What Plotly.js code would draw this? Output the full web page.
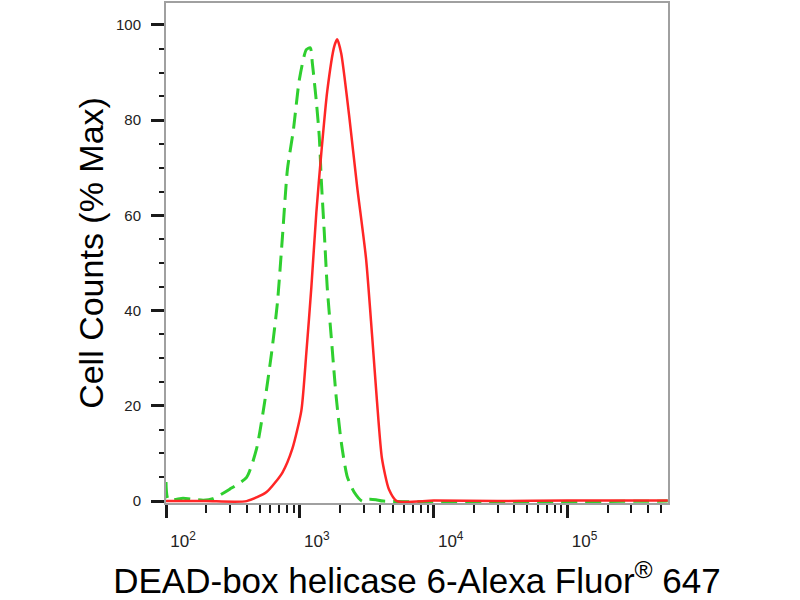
<!DOCTYPE html>
<html>
<head>
<meta charset="utf-8">
<script src="https://cdn.plot.ly/plotly-3.0.1.min.js"></script>
<style>html,body{margin:0;padding:0;background:#fff;}#chart{width:800px;height:600px;}</style>
</head>
<body>
<div id="chart"></div>
<script>
// Fluorescence intensity (x) and % of max cell counts (y)
var redX = [100, 200, 400, 564, 741, 879, 1026, 1117, 1219, 1327, 1445, 1600, 1807, 1901, 2037, 2333, 2679, 3119, 3459, 3767, 4102, 4624, 5309, 10000, 30000, 100000, 300000, 560000];
var redY = [0, 0, 0, 1.9, 6, 11, 19, 31, 45, 60.5, 73, 86, 95.5, 97, 94, 81, 66, 51, 35, 21, 9, 2.5, 0, 0.1, 0, 0.15, 0.1, 0.15];

var greenX = [100, 104, 134, 159, 190, 224, 299, 400, 475, 545, 614, 680, 741, 807, 895, 991, 1117, 1197, 1239, 1327, 1397, 1445, 1522, 1600, 1714, 1866, 2037, 2255, 2541, 2917, 3289, 3707, 4200, 560000];
var greenY = [4, 0.3, 0.6, 0.4, 0.2, 0.5, 2.5, 5, 11, 20.7, 31, 41.7, 55.5, 69.6, 78, 88.5, 94.8, 95.2, 92, 84, 76.5, 67.5, 56.4, 45, 34.6, 22, 12.4, 5.2, 1.9, 0, 0.4, 0.3, 0, 0];

var xTickVals = [100, 1000, 10000, 100000];
var xTickText = ["10<sup>2</sup>", "10<sup>3</sup>", "10<sup>4</sup>", "10<sup>5</sup>"];
var xMinorVals = [200,300,400,500,600,700,800,900,2000,3000,4000,5000,6000,7000,8000,9000,20000,30000,40000,50000,60000,70000,80000,90000,200000,300000,400000,500000];
var yTickVals = [0, 20, 40, 60, 80, 100];
var xTitle = "DEAD-box helicase 6-Alexa Fluor<sup>®</sup> 647";
var yTitle = "Cell Counts (% Max)";

var traces = [
  {x: greenX, y: greenY, type: 'scatter', mode: 'lines',
   line: {color: '#2fcf2f', width: 3, dash: '16px,8px', shape: 'spline', smoothing: 0.6}, hoverinfo: 'skip'},
  {x: redX, y: redY, type: 'scatter', mode: 'lines',
   line: {color: '#ff2626', width: 2.5, shape: 'spline', smoothing: 0.6}, hoverinfo: 'skip'}
];

var fontFam = 'Liberation Sans, Arial, Helvetica, sans-serif';
var layout = {
  width: 800, height: 600,
  margin: {l: 166, r: 132, t: 3, b: 97},
  paper_bgcolor: '#ffffff', plot_bgcolor: '#ffffff',
  showlegend: false,
  font: {family: fontFam},
  xaxis: {
    type: 'log', range: [2, 5.75],
    tickmode: 'array', tickvals: xTickVals, ticktext: xTickText,
    ticks: 'outside', ticklen: 13, tickwidth: 3, tickcolor: '#1a1a1a',
    showline: true, linecolor: '#a0a0a0', linewidth: 2, mirror: true,
    showgrid: false, zeroline: false,
    tickfont: {family: fontFam, size: 17, color: '#222'},
    ticklabelshift: 17, ticklabelstandoff: 9,
    minor: {tickmode: 'array', tickvals: xMinorVals, ticks: 'outside', ticklen: 8, tickwidth: 2, tickcolor: '#1a1a1a', showgrid: false},
    title: {text: xTitle, font: {family: fontFam, size: 35, color: '#000'}, standoff: 20}
  },
  yaxis: {
    range: [-0.4, 104.6],
    tickmode: 'array', tickvals: yTickVals,
    ticks: 'outside', ticklen: 13, tickwidth: 3, tickcolor: '#1a1a1a',
    showline: true, linecolor: '#a0a0a0', linewidth: 2, mirror: true,
    showgrid: false, zeroline: false,
    tickfont: {family: fontFam, size: 15, color: '#222'},
    ticklabelstandoff: 7,
    minor: {dtick: 5, tick0: 0, ticks: 'outside', ticklen: 5, tickwidth: 2, tickcolor: '#1a1a1a', showgrid: false},
    title: {text: yTitle, font: {family: fontFam, size: 34, color: '#000'}, standoff: 2}
  }
};

Plotly.newPlot('chart', traces, layout, {staticPlot: true, displayModeBar: false});
</script>
</body>
</html>
